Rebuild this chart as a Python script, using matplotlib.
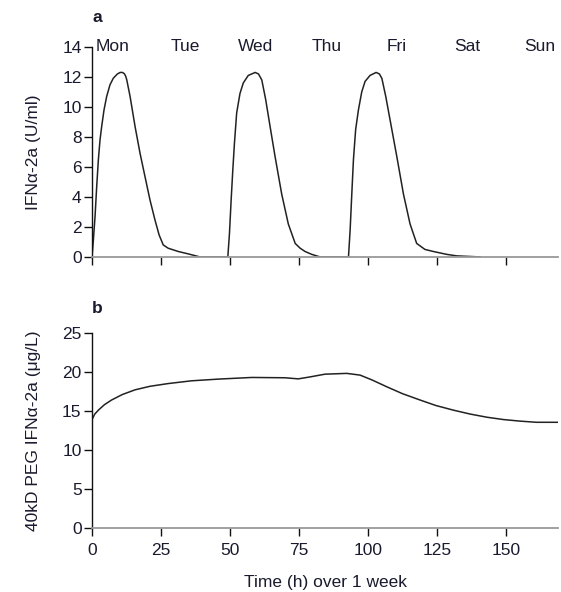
import matplotlib
matplotlib.use("Agg")
import matplotlib.pyplot as plt

plt.rcParams['font.family'] = ['Liberation Sans', 'DejaVu Sans']

# ===== data =====
# panel a: IFN alfa-2a, three doses (Mon / Wed / Fri)
t_a = [0, 0.5, 1.1, 1.7, 2.3, 2.9, 3.5, 4.35, 5.3, 6.5, 7.7, 9.2, 10.2, 11.0, 11.7, 12.2, 12.6,
       13.8, 15.6, 17.4, 19.2, 21.0, 22.8, 24.3, 25.8, 27.6, 31.3, 34.9, 39.1,
       49.2, 49.8, 50.4, 51.0, 51.6, 52.4, 53.6, 54.8, 56.6, 59.1, 60.3, 61.5, 62.9,
       64.5, 66.3, 68.7, 71.1, 73.6, 75.4, 77.2, 79.6, 82.6,
       92.9, 93.5, 94.1, 94.7, 95.5, 96.5, 97.7, 98.9, 100.7, 102.9, 104.1, 105.0, 106.4,
       108.0, 110.4, 112.8, 115.2, 117.6, 120.6, 123.7, 128.5, 132.1, 140.6]
c_a = [0, 1.13, 2.69, 4.69, 6.47, 7.8, 8.69, 9.8, 10.69, 11.47, 11.91, 12.2, 12.3, 12.3, 12.22, 12.05, 11.8,
       10.69, 8.69, 6.91, 5.35, 3.8, 2.47, 1.47, 0.8, 0.58, 0.36, 0.2, 0,
       0, 1.6, 3.8, 5.8, 7.6, 9.6, 10.9, 11.6, 12.1, 12.3, 12.2, 11.8, 10.5,
       8.7, 6.7, 4.2, 2.2, 0.9, 0.58, 0.36, 0.17, 0,
       0, 1.8, 4.2, 6.5, 8.5, 9.8, 11.0, 11.7, 12.1, 12.3, 12.2, 11.9, 10.7,
       9.1, 6.7, 4.2, 2.2, 0.9, 0.5, 0.36, 0.17, 0.07, 0]

# panel b: 40kD PEG IFN alfa-2a, weekly dose
t_b = [0, 1.0, 2.3, 4.5, 7.1, 11.0, 15.6, 21.0, 27.6, 36.0, 45.8, 57.9, 69.9, 74.7, 79.0,
       84.4, 92.3, 97.1, 101.5, 106.7, 112.5, 118.8, 124.5, 130.9, 137.0, 143.0, 149.0,
       155.0, 161.0, 168.8]
c_b = [13.9, 14.6, 15.1, 15.8, 16.4, 17.1, 17.7, 18.15, 18.5, 18.85, 19.07, 19.28, 19.24, 19.1, 19.35,
       19.7, 19.8, 19.58, 18.95, 18.1, 17.2, 16.4, 15.7, 15.1, 14.6, 14.2, 13.9,
       13.7, 13.55, 13.55]

days = ["Mon", "Tue", "Wed", "Thu", "Fri", "Sat", "Sun"]
day_pos = [7.6, 33.7, 59.4, 85.0, 110.5, 136.0, 162.0]
xticks = [0, 25, 50, 75, 100, 125, 150]

txt = '#1a1a2e'
fs = 12.5

fig = plt.figure(figsize=(5.61, 5.92), dpi=100)
ax1 = fig.add_axes([0.164, 0.566, 0.8307, 0.3547])
ax2 = fig.add_axes([0.164, 0.1076, 0.8307, 0.3304])

for ax in (ax1, ax2):
    ax.spines['top'].set_visible(False)
    ax.spines['right'].set_visible(False)
    ax.spines['left'].set_color('#111111')
    ax.spines['bottom'].set_color('#999999')
    ax.spines['left'].set_linewidth(1.0)
    ax.spines['bottom'].set_linewidth(1.3)
    ax.set_xlim(0, 168.8)
    ax.set_xticks(xticks)
    ax.tick_params(direction='out', length=5.5, width=1, color='#111111',
                   labelsize=fs, labelcolor=txt, pad=2)
    ax.tick_params(axis='x', pad=5)

# ===== panel a =====
ax1.plot(t_a, c_a, color='#222222', lw=1.1)
ax1.set_ylim(0, 14)
ax1.set_yticks(range(0, 15, 2))
ax1.set_xticklabels([])
ax1.set_ylabel("IFN\u03b1-2a (U/ml)", fontsize=fs, color=txt, labelpad=15)
for d, x in zip(days, day_pos):
    ax1.text(x, 14, d, ha='center', va='center', fontsize=fs, color=txt)
fig.text(0.164, 0.971, "a", fontsize=12.5, fontweight='bold', color=txt, va='center')

# ===== panel b =====
ax2.plot(t_b, c_b, color='#222222', lw=1.1)
ax2.set_ylim(0, 25)
ax2.set_yticks(range(0, 26, 5))
ax2.set_ylabel("40kD PEG IFN\u03b1-2a (\u03bcg/L)", fontsize=fs, color=txt, labelpad=15)
ax2.set_xlabel("Time (h) over 1 week", fontsize=fs, color=txt, labelpad=12)
fig.text(0.164, 0.479, "b", fontsize=12.5, fontweight='bold', color=txt, va='center')

fig.savefig("out.png", dpi=100)
